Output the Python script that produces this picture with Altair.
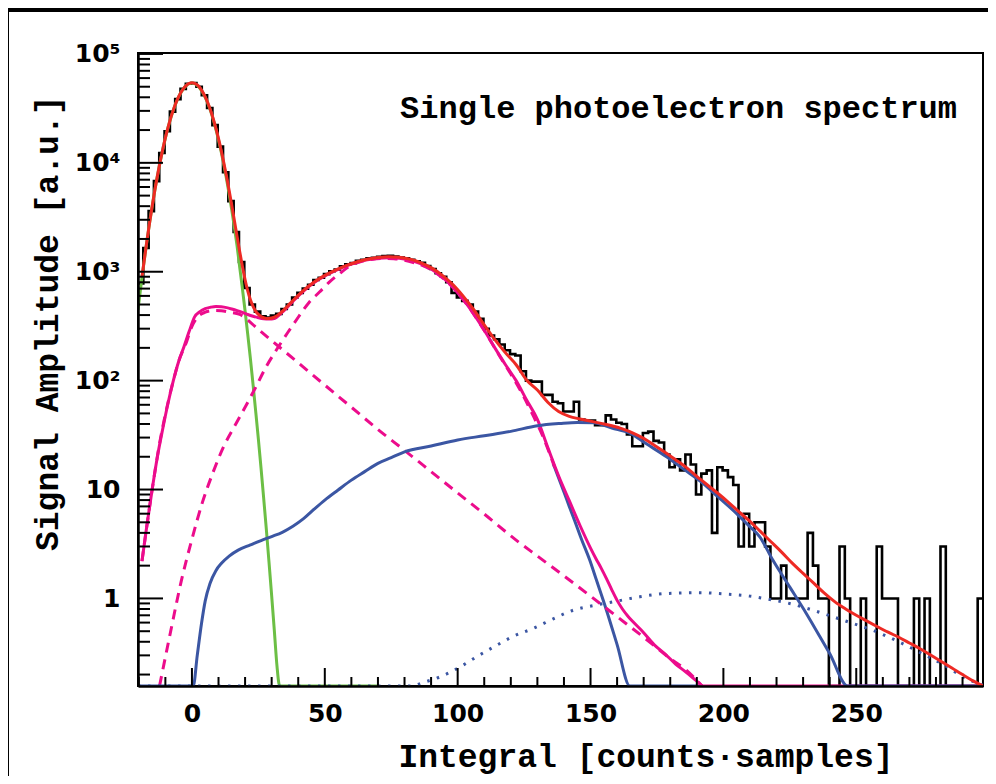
import altair as alt
import pandas as pd

# ---------------- data ----------------
x_domain = [-20.3, 297.7]
y_domain = [0.157, 102000]
floor = 0.05  # values below the axis minimum are drawn on the bottom edge

# histogram: 159 bins of width 2 starting at -20.3
bin_start = -20.3
bin_width = 2.0
counts = [
    780, 1650, 3600, 6800, 12300, 19500, 29500, 38500, 47800, 53200,
    54000, 49900, 41800, 31900, 22200, 14100, 8200, 4450, 2320, 1230,
    710, 500, 430, 390, 380, 395, 410, 455, 500, 580,
    640, 700, 760, 840, 880, 950, 1010, 1050, 1120, 1170,
    1200, 1260, 1290, 1330, 1340, 1370, 1390, 1400, 1380, 1350,
    1330, 1290, 1250, 1210, 1130, 1060, 970, 900, 800, 640,
    580, 540, 500, 430, 370, 300, 260, 240, 215, 190,
    175, 170, 122, 100, 98, 98, 74, 74, 64, 62,
    52, 52, 64, 44, 43, 43, 39, 39, 48, 44,
    41, 40, 32, 25, 25, 33, 34, 28, 27, 21,
    16, 19, 15, 21, 17, 9, 14, 15, 4, 16,
    15, 13, 11, 3, 6, 3, 5, 5, 3, 1,
    1, 2, 1, 1, 1, 1, 4, 2, 1, 1,
    0, 0, 3, 1, 0, 0, 1, 0, 0, 3,
    1, 1, 1, 0, 0, 0, 1, 0, 1, 0,
    0, 3, 0, 0, 0, 0, 0, 0, 1,
]

# total fit (red)
red_x = [-18.8, -17, -16, -15, -14, -13, -12, -11, -10, -9, -8, -7, -6, -5, -4, -3, -2, -1,
         0, 1, 2, 3, 4, 5, 6, 7, 8, 9, 10, 11, 12, 13, 14, 15, 16, 17, 18, 19, 20,
         21, 22, 23, 24, 25, 26, 27, 28, 29, 30, 32, 34, 36, 38, 42, 46, 50, 54, 58,
         62, 66, 70, 74, 78, 82, 86, 90, 94, 98, 102, 106, 110, 114, 118, 122, 126,
         130, 134, 138, 142, 146, 150, 154, 158, 162, 166, 170, 174, 178, 182, 186,
         190, 194, 198, 202, 206, 210, 214, 218, 222, 226, 230, 234, 238, 242, 246,
         250, 254, 258, 262, 266, 270, 274, 278, 282, 286, 290, 294, 297.7]
red_y = [900, 1880, 2760, 3960, 5545, 7590, 10150, 13260, 16930, 21120, 25740, 30650,
         35660, 40530, 45020, 48840, 51790, 53650,
         54330, 53730, 51880, 48880, 44970, 40400, 35450, 30380, 25440, 20820, 16650,
         13040, 9990, 7520, 5555, 4050, 2920, 2100, 1520, 1117, 845,
         667, 552, 480, 433, 406, 388, 378, 372, 372, 376, 395, 432, 485, 545, 675,
         805, 925, 1035, 1140, 1230, 1300, 1350, 1375, 1360, 1305, 1215, 1090, 935,
         770, 600, 450, 325, 238, 180, 140, 101, 82, 63, 52, 47, 44.5, 42.5, 40.5,
         38.5, 36, 33, 29.5, 25.5, 22, 18.8, 16, 13.2, 11, 9.2, 7.6, 6.2, 5.1, 4.1,
         3.3, 2.65, 2.1, 1.7, 1.38, 1.12, 0.93, 0.8, 0.7, 0.62, 0.55, 0.49, 0.44,
         0.39, 0.345, 0.302, 0.264, 0.23, 0.2, 0.175, 0.155]

# pedestal (green)
green_x = [-20.3, -19, -18, -17, -16, -15, -14, -13, -12, -11, -10, -9, -8, -7, -6, -5,
           -4, -3, -2, -1, 0, 1, 2, 3, 4, 5, 6, 7, 8, 9, 10, 11, 12, 13, 14, 15, 16,
           17, 18, 19, 20, 21, 22, 23, 24, 25, 26, 27, 28, 29, 30, 31, 32, 33, 34, 70]
green_y = [448, 812, 1248, 1874, 2751, 3948, 5529, 7566, 10120, 13225, 16880, 21055,
           25660, 30550, 35530, 40380, 44830, 48630, 51550, 53370, 54000, 53350,
           51460, 48440, 44540, 40000, 35050, 29990, 25050, 20420, 16260, 12650, 9610,
           7130, 5170, 3660, 2530, 1710, 1089, 698, 436, 266, 159, 92, 52, 29, 15.7,
           8.3, 4.3, 2.15, 1.06, 0.51, 0.24, 0.108, 0.05, 0.05]

# 1 p.e. + exponential sum (magenta solid)
mag_x = [-18.8, -17, -15, -13, -11, -9, -7, -5, -3, -1, 1, 3, 5, 7, 9, 11, 13, 15, 17,
         19, 21, 23, 25, 27, 29, 31, 34, 38, 42, 46, 50, 54, 58, 62, 66, 70, 74, 78,
         82, 86, 90, 94, 98, 102, 106, 110, 114, 118, 122, 126, 130, 134, 138, 142,
         146, 150, 152, 154, 156, 158, 160, 162, 164, 166, 170, 174, 178, 182, 186,
         190, 192.3, 200, 297.7]
mag_y = [2.2, 4.6, 9.9, 20, 36, 62, 100, 150, 205, 285, 385, 430, 458, 472, 480, 476,
         468, 455, 440, 423, 405, 390, 378, 370, 368, 372, 425, 535, 665, 795, 915,
         1025, 1130, 1215, 1285, 1330, 1345, 1330, 1275, 1185, 1060, 900, 730, 560,
         410, 290, 200, 140, 100, 66, 44, 24, 13.3, 7.9, 4.7, 2.9, 2.33, 1.9, 1.52,
         1.2, 0.96, 0.8, 0.69, 0.61, 0.485, 0.375, 0.31, 0.25, 0.21, 0.174, 0.155,
         0.05, 0.05]

# exponential component (magenta dashed)
exp_x = [-18.8, -15, -12, -9, -7, -5, -2, 0, 2, 5, 8, 11, 14, 18, 25, 30, 40, 50, 60,
         70, 80, 90, 100, 110, 122, 130, 140, 150, 160, 170, 176, 180, 186, 192]
exp_y = [2.2, 9.9, 28, 63, 100, 150, 228, 315, 380, 425, 440, 438, 425, 405, 295, 233,
         146, 91, 57, 35.6, 22.9, 14.6, 9.3, 5.96, 3.43, 2.45, 1.61, 1.05, 0.68, 0.44,
         0.335, 0.28, 0.22, 0.157]

# single photoelectron gaussian (magenta dashed)
spe_x = [-12.2, -8, -4, 0, 4, 8, 12, 16, 20, 24, 28, 32, 36, 40, 44, 48, 52, 56, 60,
         64, 68, 72, 76, 80, 84, 88, 92, 96, 100, 104, 108, 112, 116, 120, 124, 128,
         132, 136.5]
spe_y = [0.155, 0.5, 1.45, 3.5, 7.7, 14.5, 25, 38, 57, 87, 135, 195, 275, 382, 520,
         651, 816, 980, 1150, 1250, 1305, 1325, 1315, 1275, 1200, 1110, 970, 810, 640,
         480, 345, 240, 165, 115, 78, 50, 31, 16]

# steep blue tail
bs_x = [135.9, 138, 140, 142, 144, 146.6, 149.7, 152, 156, 160, 164.8, 192.3]
bs_y = [17.4, 12.8, 9.5, 7.0, 5.2, 3.5, 2.25, 1.53, 0.78, 0.377, 0.155, 0.05]

# two photoelectron component (blue solid)
bw_x = [-20.3, 0.5, 2, 3.6, 5, 6.8, 9, 11.1, 14, 17.4, 22, 26, 30, 34, 38, 42, 46, 50,
        55, 60, 65, 70, 75, 80, 90, 100, 110, 120, 130, 138.5, 145, 151, 158, 164.8,
        171, 178.6, 185, 192.3, 198, 204.9, 209, 213.7, 218.6, 225, 231.2, 236, 240,
        246.8, 250, 297.7]
bw_y = [0.05, 0.155, 0.3, 0.589, 0.95, 1.37, 1.8, 2.1, 2.45, 2.78, 3.1, 3.4, 3.7, 4.05,
        4.6, 5.4, 6.6, 8.0, 9.9, 12.2, 14.6, 17.4, 19.6, 22.2, 25.1, 28.5, 31.2, 34.2,
        38.5, 40.4, 41.3, 41.1, 36.7, 32.9, 26.3, 20.0, 15.4, 11.4, 8.55, 6.04, 4.8,
        3.68, 2.25, 1.27, 0.728, 0.46, 0.312, 0.157, 0.05, 0.05]

# three photoelectron component (blue dotted)
bd_x = [-20.3, 82, 88, 93.3, 100.9, 107, 114.7, 121, 128.4, 136, 143.5, 151, 158.5,
        168, 178.6, 191.1, 200, 209.9, 217, 224.9, 233.7, 246, 256.2, 266, 275, 283,
        291.3, 297.7]
bd_y = [0.05, 0.155, 0.172, 0.19, 0.235, 0.29, 0.372, 0.45, 0.53, 0.65, 0.78, 0.86,
        0.93, 1.03, 1.11, 1.13, 1.1, 1.05, 0.98, 0.9, 0.78, 0.62, 0.51, 0.4, 0.31,
        0.245, 0.184, 0.16]

# axes
x_major = [0, 50, 100, 150, 200, 250]
x_minor = [-20, -10, 10, 20, 30, 40, 60, 70, 80, 90, 110, 120, 130, 140, 160, 170, 180,
           190, 210, 220, 230, 240, 260, 270, 280, 290]
y_major = [1, 10, 100, 1000, 10000, 100000]
y_mantissa = [2, 3, 4, 5, 6, 7, 8, 9]
y_exponent = [-1, 0, 1, 2, 3, 4]

title_text = "Single photoelectron spectrum"
x_title = "Integral [counts\u00b7samples]"
y_title = "Signal Amplitude [a.u.]"

# ---------------- chart ----------------
W, H = 845, 633
PAD = {"left": 130, "top": 45, "right": 5, "bottom": 90}

RED = "#ee2a24"
MAG = "#ec0c8c"
GREEN = "#6cbf45"
BLUE = "#3b56a3"


def series(xs, ys):
    return pd.DataFrame({"x": xs, "y": [max(v, floor) for v in ys]})


hist_x = [bin_start + bin_width * i for i in range(len(counts) + 1)]
hist_y = counts + [counts[-1]]
y_minor = [m * 10.0 ** e for e in y_exponent for m in y_mantissa
           if y_domain[0] <= m * 10.0 ** e <= y_domain[1]]

xs = alt.Scale(domain=x_domain, nice=False, zero=False)
ys = alt.Scale(type="log", domain=y_domain, nice=False, clamp=True)

x_axis = alt.Axis(
    values=x_major, tickSize=0, grid=False, labelFlush=False, labelOverlap=False,
    labelFont="DejaVu Sans", labelFontWeight="bold", labelFontSize=25,
    labelPadding=15, labelColor="black", domainColor="black", domainWidth=2.5,
    title=x_title, titleFont="Liberation Mono", titleFontWeight="bold",
    titleFontSize=33, titleColor="black", titleAlign="right",
    titleX=755, titleY=80, titleBaseline="alphabetic", zindex=2,
)
y_label_expr = ("datum.value < 5 ? '1' : datum.value < 50 ? '10' : "
                "datum.value < 500 ? '10\u00b2' : datum.value < 5000 ? '10\u00b3' : "
                "datum.value < 50000 ? '10\u2074' : '10\u2075'")
y_axis = alt.Axis(
    values=y_major, tickSize=0, grid=False, labelFlush=False, labelOverlap=False,
    labelExpr=y_label_expr,
    labelFont="DejaVu Sans", labelFontWeight="bold", labelFontSize=25,
    labelPadding=18, labelColor="black", domainColor="black", domainWidth=2.5,
    title=y_title, titleFont="Liberation Mono", titleFontWeight="bold",
    titleFontSize=33, titleColor="black", titleAngle=270, titleAlign="right",
    titleX=-91, titleY=42, titleBaseline="middle", zindex=2,
)

X = alt.X("x:Q", scale=xs, axis=x_axis)
Y = alt.Y("y:Q", scale=ys, axis=y_axis)


def curve(xv, yv, color, dash=None, width=3.0):
    kw = dict(color=color, strokeWidth=width, interpolate="monotone", clip=True)
    if dash:
        kw["strokeDash"] = dash
    return alt.Chart(series(xv, yv)).mark_line(**kw).encode(x=X, y=Y)


# black slide border along the top edge (decoration only)
border_top = alt.Chart(pd.DataFrame({"k": [0]})).mark_rect(color="black", strokeWidth=0).encode(
    x=alt.value(-PAD["left"]), x2=alt.value(W + PAD["right"]),
    y=alt.value(-PAD["top"]), y2=alt.value(-PAD["top"] + 4),
)
border_left = alt.Chart(pd.DataFrame({"k": [0]})).mark_rect(color="black", strokeWidth=0).encode(
    x=alt.value(-PAD["left"]), x2=alt.value(-PAD["left"] + 1),
    y=alt.value(-PAD["top"]), y2=alt.value(H + PAD["bottom"]),
)

hist = alt.Chart(series(hist_x, hist_y)).mark_line(
    color="black", strokeWidth=2.6, interpolate="step-after", clip=True
).encode(x=X, y=Y)

layers = [
    border_top,
    border_left,
    hist,
    curve(green_x, green_y, GREEN),
    curve(bs_x, bs_y, BLUE),
    curve(spe_x, spe_y, MAG, dash=[10, 7]),
    curve(exp_x, exp_y, MAG, dash=[10, 7]),
    curve(mag_x, mag_y, MAG),
    curve(bw_x, bw_y, BLUE),
    curve(bd_x, bd_y, BLUE, dash=[2.5, 7.5], width=3.0),
    curve(red_x, red_y, RED),
]

# inward ticks
tick_y_major = alt.Chart(pd.DataFrame({"y": y_major})).mark_rule(
    color="black", strokeWidth=2).encode(y=Y, x=alt.value(0), x2=alt.value(25))
tick_y_minor = alt.Chart(pd.DataFrame({"y": y_minor})).mark_rule(
    color="black", strokeWidth=2).encode(y=Y, x=alt.value(0), x2=alt.value(12))
tick_x_major = alt.Chart(pd.DataFrame({"x": x_major})).mark_rule(
    color="black", strokeWidth=2).encode(x=X, y=alt.value(H), y2=alt.value(H - 18))
tick_x_minor = alt.Chart(pd.DataFrame({"x": x_minor})).mark_rule(
    color="black", strokeWidth=2).encode(x=X, y=alt.value(H), y2=alt.value(H - 9))

label = alt.Chart(pd.DataFrame({"t": [title_text]})).mark_text(
    font="Liberation Mono", fontWeight="bold", fontSize=32, color="black",
    align="right", baseline="middle"
).encode(x=alt.value(819), y=alt.value(55), text="t:N")

chart = alt.layer(
    *layers, tick_y_major, tick_y_minor, tick_x_major, tick_x_minor, label
).properties(
    width=W, height=H,
    autosize=alt.AutoSizeParams(type="none"),
    padding=PAD,
).configure(background="white").configure_view(stroke="black", strokeWidth=2)

chart.save("out.html", embed_options={"renderer": "svg", "actions": False})
